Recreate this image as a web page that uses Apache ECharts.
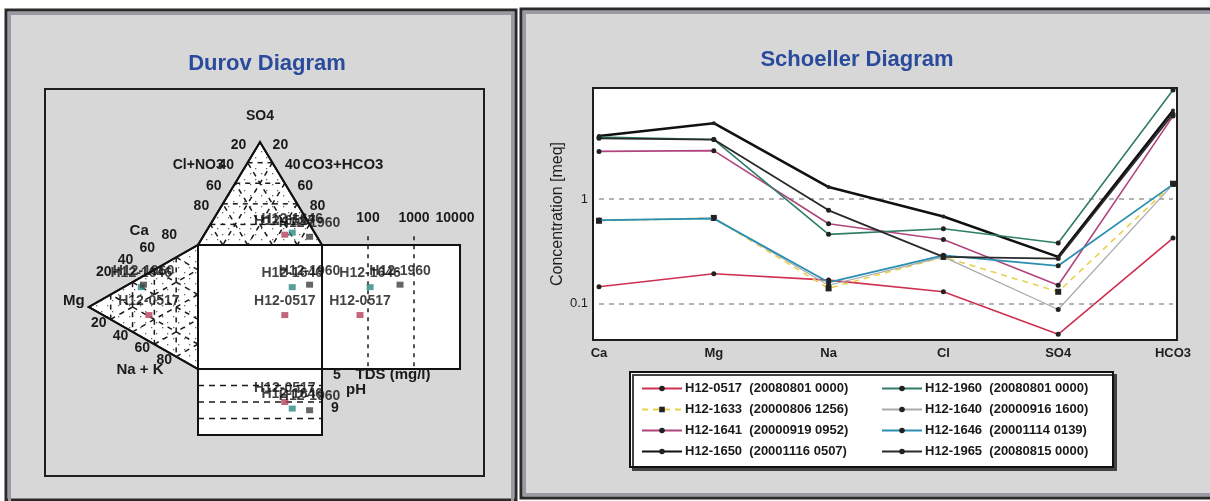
<!DOCTYPE html>
<html><head><meta charset="utf-8">
<script src="https://cdn.jsdelivr.net/npm/echarts@6/dist/echarts.min.js"></script>
<style>html,body{margin:0;padding:0;background:#fff}#c{width:1210px;height:501px}</style>
</head><body><div id="c"></div>
<script>
// ---------------- data ----------------
const ions = ['Ca', 'Mg', 'Na', 'Cl', 'SO4', 'HCO3'];
const sampleIds = ['H12-0517', 'H12-1633', 'H12-1641', 'H12-1650', 'H12-1960', 'H12-1640', 'H12-1646', 'H12-1965'];
const sampleDates = ['20080801 0000', '20000806 1256', '20000919 0952', '20001116 0507', '20080801 0000', '20000916 1600', '20001114 0139', '20080815 0000'];
const meq0517 = [0.145, 0.193, 0.168, 0.130, 0.051, 0.424];
const meq1633 = [0.62, 0.66, 0.14, 0.28, 0.13, 1.40];
const meq1641 = [2.85, 2.90, 0.58, 0.41, 0.15, 6.2];
const meq1650 = [4.0, 5.3, 1.30, 0.68, 0.28, 7.0];
const meq1960 = [3.9, 3.7, 0.46, 0.52, 0.38, 11.0];
const meq1640 = [0.62, 0.66, 0.15, 0.28, 0.088, 1.38];
const meq1646 = [0.63, 0.65, 0.16, 0.29, 0.23, 1.38];
const meq1965 = [3.8, 3.7, 0.78, 0.28, 0.27, 6.5];
const schoellerSeries = [meq0517, meq1633, meq1641, meq1650, meq1960, meq1640, meq1646, meq1965];
const yTickLabels = ['0.1', '1'];

// Durov samples (percent of meq)
const durovSamples = ['H12-0517', 'H12-1646', 'H12-1960'];
const durovCa = [21, 40, 43];
const durovMg = [45, 52, 50];
const durovNaK = [34, 8, 7];
const durovCl = [25, 18, 6];
const durovSO4 = [10, 12, 8];
const durovHCO3 = [65, 70, 86];
const durovTDS = [67, 111, 497];
const durovPH = [7.0, 7.4, 7.5];
const triTicks = [20, 40, 60, 80];
const tdsTicks = [100, 1000, 10000];
const phLines = [6, 7, 8];

// ---------------- styles / geometry ----------------
const lineColors = ['#cf3050', '#e8d24a', '#b0457e', '#111111', '#2f7d68', '#a9a9a9', '#2b8fb2', '#2a2a2a'];
const lineWidths = [1.6, 1.6, 1.6, 2.6, 1.6, 1.2, 1.8, 1.8];
const durovColors = ['#b4405a', '#2a8a7e', '#404040'];
const FONT = "'Liberation Sans', Arial, sans-serif";
const TRI_H = 83, MG_X = -88, TDS_DEC = 37.1, PH_UNIT = 13.3;
const tdsX = v => 100 + (Math.log10(v) - 1) * TDS_DEC;
const phY = v => -(v - 5) * PH_UNIT;
const sqX = i => durovHCO3[i] + durovSO4[i] / 2;
const sqY = i => durovCa[i] + durovMg[i] / 2;

// stipple pattern for the ternary triangles
const pc = document.createElement('canvas');
pc.width = 11; pc.height = 11;
(function () {
  const g = pc.getContext('2d');
  g.fillStyle = '#ffffff'; g.fillRect(0, 0, 11, 11);
  g.fillStyle = '#666666';
  g.fillRect(2, 3, 1.3, 1.3); g.fillRect(8, 8, 1.3, 1.3);
})();
const stipple = {image: pc, repeat: 'repeat'};

function renderDurov(params, api) {
  const P = (x, y) => api.coord([x, y]);
  const L = [0, 100], R = [100, 100], T = [50, 100 + TRI_H];
  const C = [0, 100], N = [0, 0], M = [MG_X, 50];
  const lerp = (a, b, f) => [a[0] + (b[0] - a[0]) * f, a[1] + (b[1] - a[1]) * f];
  const kids = [];
  const poly = (pts, fill) => kids.push({type: 'polygon', shape: {points: pts.map(p => P(p[0], p[1]))},
    style: {fill: fill || '#fff', stroke: '#111', lineWidth: 2}});
  const seg = (a, b, dash) => kids.push({type: 'line', shape: {x1: P(a[0], a[1])[0], y1: P(a[0], a[1])[1], x2: P(b[0], b[1])[0], y2: P(b[0], b[1])[1]},
    style: {stroke: '#1a1a1a', lineWidth: 1.5, lineDash: dash || [5, 5]}});
  const txt = (s, p, dx, dy, size, align) => kids.push({type: 'text', x: p[0] + dx, y: p[1] + dy,
    style: {text: s, fill: '#1a1a1a', font: 'bold ' + (size || 14) + 'px ' + FONT, align: align || 'center', verticalAlign: 'middle'}});
  // shapes
  poly([L, R, T], stipple);
  poly([C, N, M], stipple);
  poly([[0, 0], [100, 0], [100, 100], [0, 100]]);
  poly([[100, 0], [tdsX(10000), 0], [tdsX(10000), 100], [100, 100]]);
  poly([[0, phY(9)], [100, phY(9)], [100, 0], [0, 0]]);
  // ternary dashed grids
  [[L, R, T], [C, N, M]].forEach(tri => {
    for (let k = 0; k < 3; k++) {
      const V = tri[k], U = tri[(k + 1) % 3], W = tri[(k + 2) % 3];
      triTicks.forEach(t => seg(lerp(U, V, t / 100), lerp(W, V, t / 100)));
    }
  });
  // TDS dashed verticals
  tdsTicks.slice(0, 2).forEach(v => seg([tdsX(v), 107], [tdsX(v), 0], [4, 5]));
  // pH dashed horizontals
  phLines.forEach(v => seg([0, phY(v)], [100, phY(v)], [6, 5]));
  // redraw outlines on top
  const outline = pts => kids.push({type: 'polygon', shape: {points: pts.map(p => P(p[0], p[1]))},
    style: {fill: 'none', stroke: '#111', lineWidth: 2}});
  outline([L, R, T]); outline([C, N, M]);
  outline([[0, 0], [100, 0], [100, 100], [0, 100]]);
  // labels
  const pT = P(T[0], T[1]), pL = P(L[0], L[1]), pR = P(R[0], R[1]);
  const pC = P(C[0], C[1]), pN = P(N[0], N[1]), pM = P(M[0], M[1]);
  const lp = (a, b, f) => [a[0] + (b[0] - a[0]) * f, a[1] + (b[1] - a[1]) * f];
  txt('SO4', pT, 0, -26);
  triTicks.forEach(t => {
    txt(String(t), lp(pT, pL, t / 100), -9, -18);
    txt(String(t), lp(pT, pR, t / 100), 8, -18);
    txt(String(t), lp(pM, pC, t / 100), -7, -22);
    txt(String(t), lp(pM, pN, t / 100), -12, 4);
  });
  const l40 = lp(pT, pL, 0.4), r40 = lp(pT, pR, 0.4);
  txt('Cl+NO3', l40, -37, -18);
  txt('CO3+HCO3', r40, 58, -18, 15);
  const c80 = lp(pM, pC, 0.8);
  txt('Ca', c80, -37, -27, 15);
  txt('Mg', pM, -15, -6, 15);
  txt('Na + K', pN, -58, 1, 15);
  tdsTicks.forEach((v, i) => { const p = P(tdsX(v), 100); txt(String(v), p, i === 2 ? -5 : 0, -27); });
  const pBR = P(100, 0);
  txt('5', pBR, 15, 6);
  txt('TDS (mg/l)', pBR, 71, 6, 15);
  txt('pH', pBR, 34, 21, 15);
  txt('9', pBR, 13, 39);
  return {type: 'group', children: kids};
}

function durovPoints(xf, yf) {
  return durovSamples.map((n, i) => ({name: n, value: [xf(i), yf(i)], itemStyle: {color: durovColors[i]}}));
}
const durovLabel = {show: true, formatter: '{b}', position: 'top', distance: 4, color: '#111111', fontSize: 14, fontWeight: 'bold', fontFamily: FONT};
function durovScatter(data) {
  return {type: 'scatter', xAxisIndex: 0, yAxisIndex: 0, symbol: 'rect', symbolSize: [7, 6], z: 5, data: data, label: durovLabel, silent: true, labelLayout: {hideOverlap: false}};
}

const legendNames = sampleIds.map((s, i) => s + '  (' + sampleDates[i] + ')');

const series = [
  {type: 'custom', xAxisIndex: 0, yAxisIndex: 0, renderItem: renderDurov, data: [[0, 0]], clip: false, silent: true, z: 2},
  durovScatter(durovPoints(sqX, sqY)),
  durovScatter(durovPoints(i => tdsX(durovTDS[i]), sqY)),
  durovScatter(durovPoints(sqX, i => phY(durovPH[i]))),
  durovScatter(durovPoints(i => MG_X * durovMg[i] / 100, sqY)),
  durovScatter(durovPoints(sqX, i => 100 + TRI_H * durovSO4[i] / 100))
];
schoellerSeries.forEach((arr, i) => {
  const s = {
    type: 'line', name: legendNames[i], xAxisIndex: 1, yAxisIndex: 1, data: arr,
    symbol: i === 1 ? 'rect' : 'circle', symbolSize: i === 1 ? 6 : (i === 3 ? 4 : 5), showSymbol: true,
    lineStyle: {color: lineColors[i], width: lineWidths[i], type: i === 1 ? [6, 5] : 'solid'},
    itemStyle: {color: '#222'}, z: 3 + i, animation: false
  };
  if (i === 0) {
    s.markLine = {silent: true, symbol: 'none', label: {show: false},
      lineStyle: {type: [5, 5], color: '#9a9a9a', width: 1.5},
      data: yTickLabels.map(v => ({yAxis: Number(v)}))};
  }
  series.push(s);
});

const legendCommon = {orient: 'vertical', itemWidth: 40, itemHeight: 7, itemGap: 8, selectedMode: false,
  itemStyle: {borderWidth: 0},
  textStyle: {color: '#1a1a1a', fontSize: 13, fontWeight: 'bold', fontFamily: FONT, padding: [0, 0, 0, -2]}};

const chart = echarts.init(document.getElementById('c'), null, {renderer: 'canvas'});
chart.setOption({
  animation: false,
  backgroundColor: '#ffffff',
  title: [
    {text: 'Durov Diagram', left: 262, top: 48, textAlign: 'center', textStyle: {color: '#2a4b9c', fontSize: 22, fontWeight: 'bold', fontFamily: FONT}},
    {text: 'Schoeller Diagram', left: 852, top: 44, textAlign: 'center', textStyle: {color: '#2a4b9c', fontSize: 22, fontWeight: 'bold', fontFamily: FONT}}
  ],
  graphic: [
    {type: 'rect', shape: {x: 6, y: 10, width: 510, height: 490}, style: {fill: '#d7d7d7', stroke: '#2a2a2a', lineWidth: 3}, z: -10},
    {type: 'rect', shape: {x: 9.5, y: 13.5, width: 503, height: 490}, style: {fill: 'none', stroke: '#9a9aa4', lineWidth: 3}, z: -10},
    {type: 'rect', shape: {x: 521, y: 9, width: 700, height: 489}, style: {fill: '#d7d7d7', stroke: '#2a2a2a', lineWidth: 3}, z: -10},
    {type: 'rect', shape: {x: 524.5, y: 12.5, width: 700, height: 482}, style: {fill: 'none', stroke: '#9a9aa4', lineWidth: 3}, z: -10},
    {type: 'rect', shape: {x: 45, y: 89, width: 439, height: 387}, style: {fill: 'none', stroke: '#1e1e1e', lineWidth: 2}, z: -9},
    {type: 'rect', shape: {x: 593, y: 88, width: 584, height: 252}, style: {fill: '#ffffff', stroke: '#1e1e1e', lineWidth: 2}, z: -9},
    {type: 'rect', shape: {x: 630, y: 372, width: 483, height: 95}, style: {fill: '#ffffff', stroke: '#111', lineWidth: 2, shadowColor: '#444', shadowOffsetX: 3, shadowOffsetY: 3, shadowBlur: 0}, z: -9}
  ],
  grid: [
    {left: 74, top: 121, width: 396.8, height: 322.4, show: false},
    {left: 599, top: 88, width: 574, height: 252, show: false}
  ],
  xAxis: [
    {type: 'value', gridIndex: 0, min: -100, max: 220, show: false},
    {type: 'category', gridIndex: 1, data: ions, boundaryGap: false,
      axisLine: {show: false}, axisTick: {show: false}, splitLine: {show: false},
      axisLabel: {color: '#1e1e1e', fontSize: 13, fontWeight: 'bold', fontFamily: FONT, margin: 7}}
  ],
  yAxis: [
    {type: 'value', gridIndex: 0, min: -60, max: 200, show: false},
    {type: 'log', gridIndex: 1, logBase: 10, min: 0.045, max: 11.5,
      name: 'Concentration [meq]', nameLocation: 'middle', nameGap: 16, nameRotate: 90,
      nameTextStyle: {color: '#1e1e1e', fontSize: 16, fontFamily: FONT},
      axisLine: {show: false}, axisTick: {show: false}, splitLine: {show: false},
      axisLabel: {color: '#1e1e1e', fontSize: 13, fontFamily: FONT, margin: 11,
        formatter: v => { const t = yTickLabels.find(s => Math.abs(Number(s) - v) < 1e-9); return t || ''; }}}
  ],
  legend: [
    Object.assign({left: 636, top: 377, data: legendNames.slice(0, 4)}, legendCommon),
    Object.assign({left: 876, top: 377, data: legendNames.slice(4, 8)}, legendCommon)
  ],
  series: series
});
</script></body></html>
